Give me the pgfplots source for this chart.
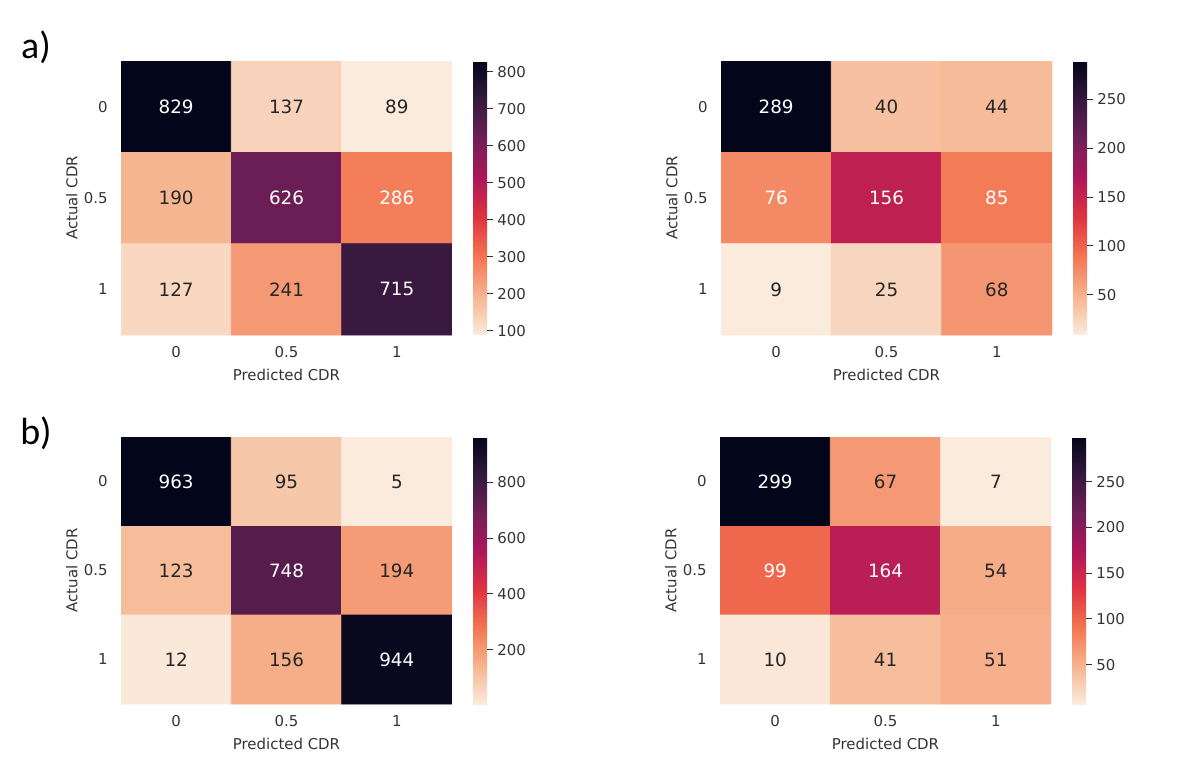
\documentclass[border=0pt]{standalone}
\usepackage{fontspec}
\setmainfont{DejaVu Sans}
\newfontfamily\panelfont{Carlito}
\usepackage{pgfplots}
\pgfplotsset{compat=1.18}
\usepackage{pgfplotstable}

\definecolor{tickgray}{HTML}{333333}
\definecolor{cl0}{HTML}{262626}
\definecolor{cl1}{HTML}{FFFFFF}

% confusion matrices: x = predicted index, y = actual index, v = count, w = white text
\pgfplotstableread{
x y v w
0 0 829 1
1 0 137 0
2 0 89 0
0 1 190 0
1 1 626 1
2 1 286 1
0 2 127 0
1 2 241 0
2 2 715 1
}\tabAL
\pgfplotstableread{
x y v w
0 0 289 1
1 0 40 0
2 0 44 0
0 1 76 1
1 1 156 1
2 1 85 1
0 2 9 0
1 2 25 0
2 2 68 0
}\tabAR
\pgfplotstableread{
x y v w
0 0 963 1
1 0 95 0
2 0 5 0
0 1 123 0
1 1 748 1
2 1 194 0
0 2 12 0
1 2 156 0
2 2 944 1
}\tabBL
\pgfplotstableread{
x y v w
0 0 299 1
1 0 67 0
2 0 7 0
0 1 99 1
1 1 164 1
2 1 54 0
0 2 10 0
1 2 41 0
2 2 51 0
}\tabBR

\newcommand\tickfont{\fontsize{7.5}{9}\selectfont}

\pgfplotsset{
  /pgf/number format/assume math mode=true,
  colormap={rocketr}{
    rgb255=(250,235,221) rgb255=(246,180,143) rgb255=(243,118,81)
    rgb255=(225,51,66) rgb255=(173,23,89) rgb255=(112,31,87)
    rgb255=(53,25,62) rgb255=(3,5,26)},
  heat/.style={
    scale only axis, width=165.5bp,
    enlargelimits=false, xmin=-0.5, xmax=2.5, ymin=-0.5, ymax=2.5, y dir=reverse,
    xtick={0,1,2}, ytick={0,1,2},
    xticklabels={\mbox{0},\mbox{0.5},\mbox{1}},
    yticklabels={\mbox{0},\mbox{0.5},\mbox{1}},
    major tick length=0pt, axis line style={draw=none}, tick style={draw=none},
    xticklabel style={font=\tickfont, text=tickgray, inner sep=0pt, yshift=-5.5bp},
    yticklabel style={font=\tickfont, text=tickgray, inner sep=0pt, xshift=-6.5bp},
    xlabel={Predicted CDR}, ylabel={Actual CDR},
    label style={font=\fontsize{7.5}{9}\selectfont, text=tickgray, inner sep=0pt},
    xlabel style={at={(axis description cs:0.5,0)}, anchor=north, yshift=-17bp},
    ylabel style={at={(axis description cs:-0.13,0.5)}, anchor=south},
    colormap name=rocketr,
    colorbar right,
    colorbar shift/.style={xshift=10.5bp},
    colorbar style={at={(parent axis.north east)}, anchor=north west, width=7bp,
      y dir=normal, axis line style={draw=none}, ytick pos=right, tick align=outside,
      major tick length=3bp, tick style={draw=tickgray, line width=0.5bp},
      /pgf/number format/assume math mode=true,
      yticklabel style={font=\tickfont, text=tickgray, inner sep=2bp, xshift=0bp}},
  },
  cells/.style={matrix plot*, mesh/cols=3, point meta=explicit},
  nums/.style={only marks, mark=none, point meta=explicit, nodes near coords,
    visualization depends on={100*\thisrow{w} \as \wf},
    nodes near coords style={anchor=center, inner sep=0pt,
      /pgf/number format/assume math mode=true,
      font=\fontsize{9.2}{11}\selectfont, text=cl1!\wf!cl0}},
}

\begin{document}
\begin{tikzpicture}
\useasboundingbox (0,0) rectangle (595.5bp,-380.5bp);

\node[font=\panelfont\fontsize{19}{22}\selectfont] at (18bp,-23.5bp) {a)};
\node[font=\panelfont\fontsize{19}{22}\selectfont] at (18bp,-216.5bp) {b)};

\begin{axis}[heat, height=137bp, at={(60.5bp,-30.5bp)}, anchor=north west,
  colorbar style={ytick={100,200,...,800}}]
  \addplot[cells] table[meta=v] {\tabAL};
  \addplot[nums] table[meta=v] {\tabAL};
\end{axis}

\begin{axis}[heat, height=137bp, at={(360.5bp,-30.5bp)}, anchor=north west,
  colorbar style={ytick={50,100,...,250}}]
  \addplot[cells] table[meta=v] {\tabAR};
  \addplot[nums] table[meta=v] {\tabAR};
\end{axis}

\begin{axis}[heat, height=133.5bp, at={(60.5bp,-218.5bp)}, anchor=north west,
  colorbar style={ytick={200,400,...,800}}]
  \addplot[cells] table[meta=v] {\tabBL};
  \addplot[nums] table[meta=v] {\tabBL};
\end{axis}

\begin{axis}[heat, height=133.5bp, at={(360bp,-218.5bp)}, anchor=north west,
  colorbar style={ytick={50,100,...,250}}]
  \addplot[cells] table[meta=v] {\tabBR};
  \addplot[nums] table[meta=v] {\tabBR};
\end{axis}
\end{tikzpicture}
\end{document}
